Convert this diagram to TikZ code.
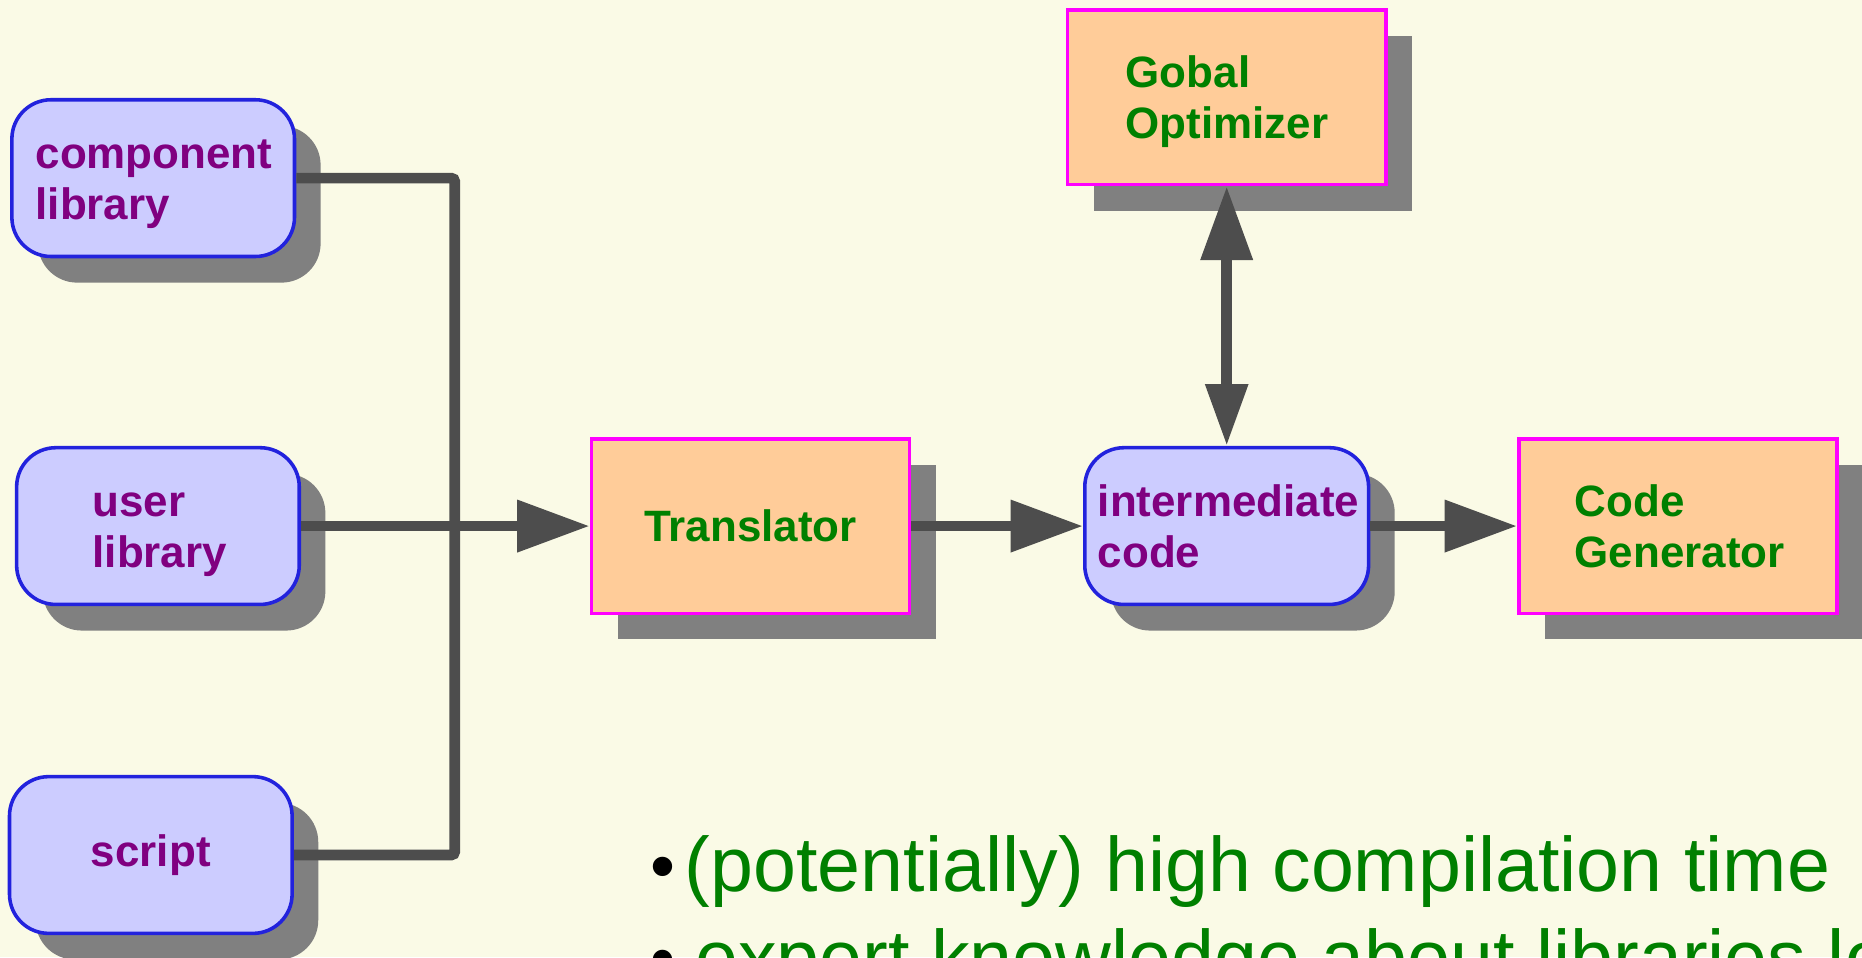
\documentclass[tikz,border=0pt]{standalone}
\usepackage{fontspec}
\setmainfont{Liberation Sans}
\usetikzlibrary{arrows.meta,shadows}

\definecolor{paper}{RGB}{250,250,230}
\definecolor{lavender}{RGB}{204,204,255}
\definecolor{boxblue}{RGB}{34,34,221}
\definecolor{purpletext}{RGB}{128,0,128}
\definecolor{peach}{RGB}{255,204,153}
\definecolor{boxmagenta}{RGB}{255,0,255}
\definecolor{greentext}{RGB}{0,128,0}
\definecolor{wirecolor}{RGB}{77,77,77}
\definecolor{shade}{RGB}{128,128,128}

% bullet of the remark lines
\newcommand\notebullet{\raisebox{1pt}{\textcolor{black}{\fontsize{60}{60}\selectfont •}}}
% fixes the height of the first line of a two-line box label
\newcommand\capstrut{\rule{0pt}{26.5pt}}

\tikzset{
  boxshadow/.style={general shadow={shadow xshift=22pt, shadow yshift=-22pt, fill=shade}},
  datanode/.style={draw=boxblue, line width=3pt, fill=lavender, rounded corners=33pt,
    boxshadow, minimum width=238pt, minimum height=132pt, inner sep=0pt,
    font=\bfseries\fontsize{37}{43}\selectfont, text=purpletext, align=left},
  toolnode/.style={draw=boxmagenta, line width=3pt, fill=peach,
    boxshadow, minimum width=268pt, minimum height=147pt, inner sep=0pt,
    font=\bfseries\fontsize{37}{43}\selectfont, text=greentext, align=left},
  wire/.style={draw=wirecolor, line width=9pt},
  flow/.style={-{Triangle[length=61pt,width=42pt]}},
  note/.style={inner sep=0pt, anchor=base west, text=greentext,
    font=\fontsize{65}{78}\selectfont}
}

\begin{document}
\begin{tikzpicture}[x=1pt,y=-1pt]
\useasboundingbox (0,0) rectangle (1568,806);
\clip (0,0) rectangle (1568,806);
\fill[paper] (0,0) rectangle (1568,806);

% inputs
\node[datanode, inner xsep=20pt, text width=198pt] (complib) at (129,150) {\capstrut component\\\smash{library}};
\node[datanode, inner xsep=64pt, text width=110pt] (userlib) at (133,443) {\capstrut user\\\smash{library}};
\node[datanode, align=center] (script) at (127,720) {script};

% processing chain
\node[toolnode, align=center] (translator) at (632,443) {Translator};
\node[datanode, inner xsep=11pt, text width=217pt] (interm) at (1033,443) {\capstrut intermediate\\\smash{code}};
\node[toolnode, inner xsep=47pt, text width=174pt] (codegen) at (1413,443) {\capstrut Code\\\smash{Generator}};
\node[toolnode, inner xsep=49pt, text width=170pt] (optimizer) at (1033,82) {\capstrut Gobal\\\smash{Optimizer}};

% bus collecting the inputs
\coordinate (bustop) at (383,150);
\coordinate (busbottom) at (383,720);
\draw[wire, rounded corners=3pt] (complib.east) -- (bustop) -- (busbottom) -- (script.east);
\draw[wire, flow] (userlib.east) -- (translator.west);
\draw[wire, flow] (translator.east) -- (interm.west);
\draw[wire, flow] (interm.east) -- (codegen.west);
\draw[wire, {Triangle[length=62pt,width=42pt]}-{Triangle[length=52pt,width=34pt]}]
  (optimizer.south) -- (interm.north);

% remarks
\node[note] (note1) at (548,751) {\notebullet\hspace{7.5pt}(potentially) high compilation time};
\node[note] (note2) at (548,829) {\notebullet\hspace{16.4pt}expert knowledge about libraries lo};
\end{tikzpicture}
\end{document}
